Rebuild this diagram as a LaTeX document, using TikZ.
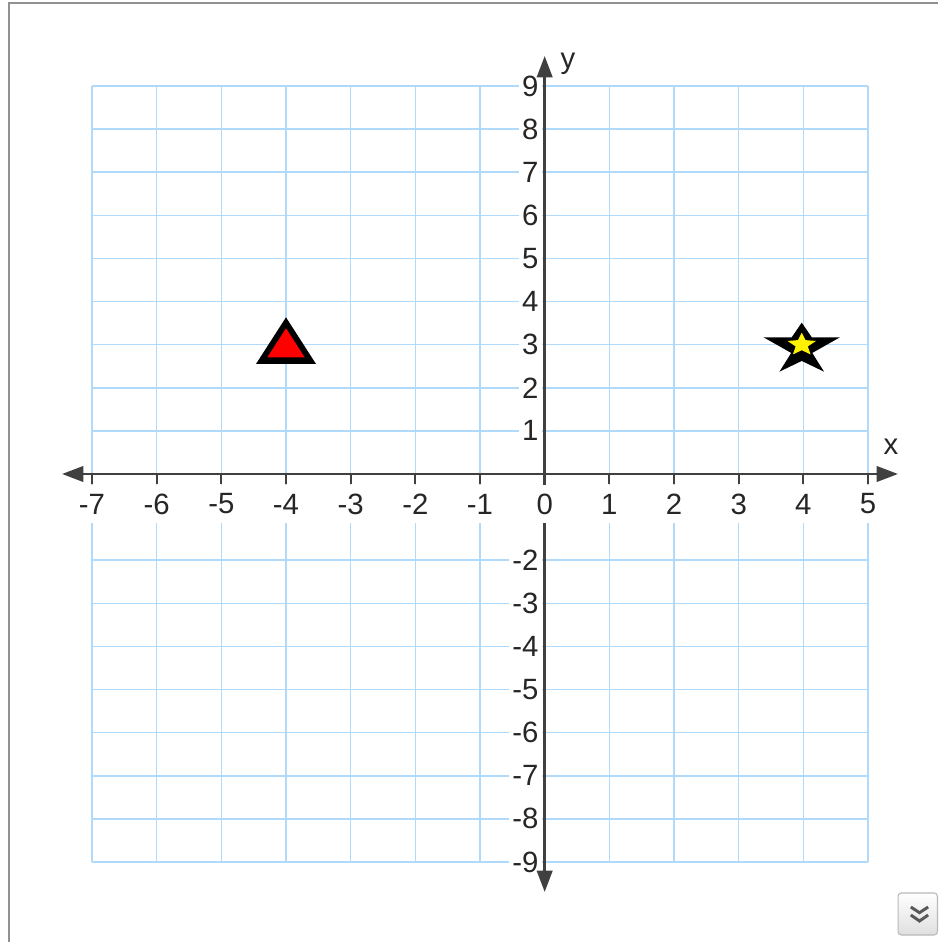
\documentclass[tikz,border=0pt]{standalone}
\usepackage{fontspec}
\setmainfont{Liberation Sans}
\usetikzlibrary{calc}
\usetikzlibrary{arrows.meta}

\definecolor{gridblue}{RGB}{176,218,252}
\definecolor{axisgray}{RGB}{64,64,64}
\definecolor{framegray}{RGB}{145,145,145}

\begin{document}
\begin{tikzpicture}[x=48.5pt,y=32.333pt,
  gridline/.style={gridblue,line width=1.1pt},
  axisline/.style={axisgray,line width=2.2pt,{Triangle[length=16pt,width=11.5pt]}-{Triangle[length=16pt,width=11.5pt]}},
  tickmark/.style={axisgray,line width=1.3pt},
  lab/.style={font=\fontsize{22}{22}\selectfont,text=black!85,inner sep=0pt},
  xlab/.style={lab,fill=white,minimum width=48.6pt,minimum height=28pt},
  ylab/.style={lab,fill=white,anchor=east,inner xsep=2.5pt},
  btn/.style={draw=gray!55,line width=0.8pt,rounded corners=2.5pt,top color=white,bottom color=gray!25,minimum width=29.6pt,minimum height=31.5pt},
  chev/.style={black!65,line width=2.2pt}]
\def\h{22.5pt}
\useasboundingbox (-8.4227,-10.8557) rectangle (6.0825,10.9948);
\draw[framegray,line width=1.5pt] (-8.2758,-10.8557) -- (-8.2758,10.9137) -- (6.0825,10.9137);

\foreach \i in {-7,...,5} \draw[gridline] (\i,-9) -- (\i,9);
\foreach \j in {-9,...,9} \draw[gridline] (-7,\j) -- (5,\j);

\foreach \j [count=\k] in {-9,...,-2,1,2,...,9}
  \node[ylab] (yl\k) at ($(0,\j)+(-2pt,0pt)$) {\j};

\coordinate (xa) at ($(-7,0)+(-\h,0pt)$);
\coordinate (xb) at ($(5,0)+(\h,0pt)$);
\coordinate (ya) at ($(0,-9)+(0pt,-\h)$);
\coordinate (yb) at ($(0,9)+(0pt,\h)$);
\draw[axisline] (xa) -- (xb);
\draw[axisline] (ya) -- (yb);

\foreach \i [count=\k] in {-7,...,5} {
  \draw[tickmark] (\i,0) -- ++(0pt,-7.5pt);
  \node[xlab] (xl\k) at ($(\i,0)+(0pt,-\h)$) {\i};
}
\node[lab] (xname) at (5.3557,0.6263) {x};
\node[lab] (yname) at (0.3608,9.5104) {y};

\coordinate (tri) at (-4,3);
\fill[black,shift={(tri)}] (0pt,20.5pt) -- (22.5pt,-14.5pt) -- (-22.5pt,-14.5pt) -- cycle;
\fill[red,shift={(tri)}] (0pt,12.3pt) -- (14pt,-9.45pt) -- (-14pt,-9.45pt) -- cycle;

\coordinate (star) at ($(4,3)+(-1.2pt,0pt)$);
\fill[black,shift={(star)}] (0pt,16.5pt) -- (7.5pt,5.55pt) -- (28.7pt,5.55pt) -- (7.9pt,-6.2pt) -- (16.7pt,-20.25pt) -- (0pt,-12.2pt) -- (-16.7pt,-20.25pt) -- (-7.9pt,-6.2pt) -- (-28.7pt,5.55pt) -- (-7.5pt,5.55pt) -- cycle;
\fill[yellow,shift={(star)}] (90:11.25pt and 9pt) \foreach \a in {0,...,4} {-- (126+72*\a:4.8pt and 4.2pt) -- (162+72*\a:11.25pt and 9pt)} -- cycle;

\node[btn] (more) at (5.7693,-10.2062) {};
\draw[chev,shift={(more.center)}] (-5.2pt,5.25pt) -- (1.3pt,1pt) -- (7.8pt,5.25pt);
\draw[chev,shift={(more.center)}] (-5.2pt,-0.75pt) -- (1.3pt,-5.25pt) -- (7.8pt,-0.75pt);
\end{tikzpicture}
\end{document}
